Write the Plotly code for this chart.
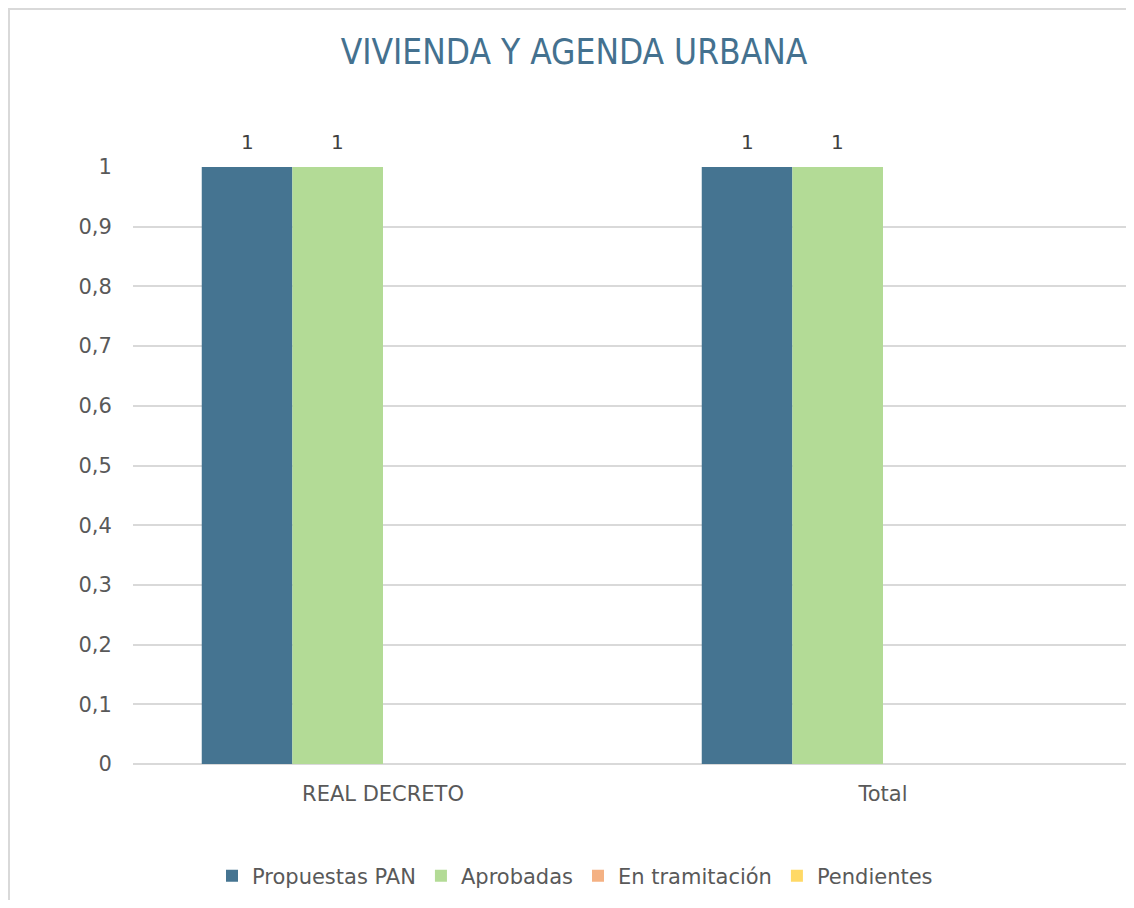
import plotly.graph_objects as go

categories = ["REAL DECRETO", "Total"]
series_names = ["Propuestas PAN", "Aprobadas", "En tramitación", "Pendientes"]
propuestas_pan = [1, 1]
aprobadas = [1, 1]
en_tramitacion = [0, 0]
pendientes = [0, 0]
series_values = [propuestas_pan, aprobadas, en_tramitacion, pendientes]
colors = ["#457491", "#B3DB96", "#F4B183", "#FFD966"]
y_ticks = [0, 0.1, 0.2, 0.3, 0.4, 0.5, 0.6, 0.7, 0.8, 0.9, 1]

# page body has an 8px default margin, so the figure is sized to fit the window
OFF = 8
W, H = 1134 - 2 * OFF, 908 - 2 * OFF
ML, MR, MT = 133 - OFF, 0, 167 - OFF
MB = H - (764 - OFF)
CAT_PX = 500          # pixel width of one category slot in the reference
BARGAP = 0.275
FONT = "'DejaVu Sans', sans-serif"
TFONT = "'DejaVu Sans Condensed', 'Liberation Sans Narrow', 'DejaVu Sans', sans-serif"
TXT = "#595959"

plot_w = W - ML - MR
plot_h = H - MT - MB

fig = go.Figure()
for name, vals, col in zip(series_names, series_values, colors):
    fig.add_trace(go.Bar(
        name=name, x=categories, y=vals,
        marker=dict(color=col, line=dict(width=0)),
    ))

# data labels (only for non-zero values)
slot = CAT_PX * (1 - BARGAP) / len(series_names)
annotations = []
n = len(series_names)
for i, vals in enumerate(series_values):
    for c, v in zip(categories, vals):
        if v:
            annotations.append(dict(
                x=c, y=v, xref="x", yref="y", text=str(v), showarrow=False,
                xshift=(i - (n - 1) / 2) * slot, yshift=25,
                font=dict(family=FONT, size=20, color="#404040"),
            ))

fig.update_layout(
    width=W, height=H,
    margin=dict(l=ML, r=MR, t=MT, b=MB),
    paper_bgcolor="white", plot_bgcolor="white",
    barmode="group", bargap=BARGAP, bargroupgap=0,
    separators=",.",
    title=dict(text="VIVIENDA Y AGENDA URBANA", x=(574 - OFF - ML) / plot_w, xref="paper",
               xanchor="center", y=1 - (52 - OFF) / H, yref="container", yanchor="middle",
               font=dict(family=TFONT, size=35, color="#44718F")),
    font=dict(family=FONT, size=21, color=TXT),
    legend=dict(orientation="h", x=(575 - OFF - ML) / plot_w, xanchor="center",
                y=-(876 - OFF - (H - MB)) / plot_h,
                yanchor="middle", font=dict(family=FONT, size=21, color=TXT),
                traceorder="normal", itemwidth=30),
    xaxis=dict(type="category", range=[-0.5, -0.5 + plot_w / CAT_PX],
               showgrid=False, showline=False, zeroline=False,
               ticks="outside", ticklen=11, tickcolor="rgba(0,0,0,0)",
               tickfont=dict(family=FONT, size=21, color=TXT)),
    yaxis=dict(range=[0, 1], tickvals=y_ticks, showgrid=True, gridcolor="#D9D9D9",
               gridwidth=2, zeroline=True, zerolinecolor="#D9D9D9", zerolinewidth=2,
               showline=False, ticks="outside", ticklen=16, tickcolor="rgba(0,0,0,0)",
               tickfont=dict(family=FONT, size=21, color=TXT)),
    annotations=annotations,
    shapes=[dict(type="rect", xref="paper", yref="paper",
                 x0=(1 - ML) / plot_w, x1=1.05,
                 y0=-0.3, y1=(H - MB - 1) / plot_h,
                 line=dict(color="#D9D9D9", width=2), fillcolor="rgba(0,0,0,0)",
                 layer="below")],
)

fig.write_html("out.html")
